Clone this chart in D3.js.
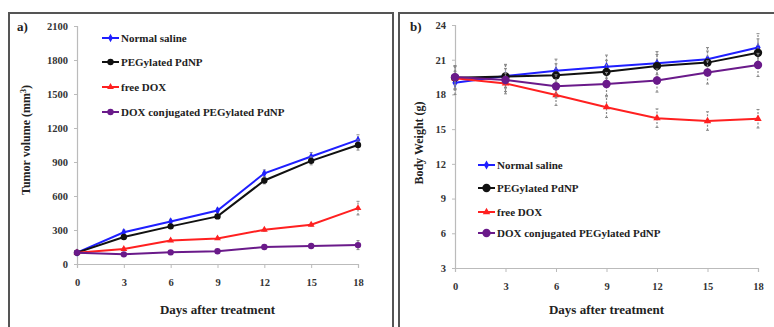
<!DOCTYPE html>
<html>
<head>
<meta charset="utf-8">
<script src="https://cdn.jsdelivr.net/npm/d3@7"></script>
<style>
  body { margin: 0; background: #fff; }
</style>
</head>
<body>
<div id="chart"></div>
<script>
// Data
const days = [0, 3, 6, 9, 12, 15, 18];
const seriesNames = ['Normal saline', 'PEGylated PdNP', 'free DOX', 'DOX conjugated PEGylated PdNP'];
const seriesColors = ['#1f1fff', '#111111', '#ff2020', '#6a1a8a'];
const seriesSymbols = ['diamond', 'circle', 'triangle', 'circle'];

// a) tumor volume (mm3)
const volNormal = [100, 280, 375, 472, 800, 948, 1095];
const volPeg = [100, 238, 332, 420, 737, 910, 1050];
const volDox = [100, 132, 208, 226, 302, 347, 493];
const volConj = [100, 85, 103, 112, 150, 159, 167];
const volErr = [
  [0, 20, 20, 20, 30, 35, 45],
  [0, 15, 15, 15, 30, 35, 45],
  [0, 10, 10, 10, 12, 12, 60],
  [0, 8, 8, 8, 10, 10, 40]
];
const volTicks = [0, 300, 600, 900, 1200, 1500, 1800, 2100];

// b) body weight (g)
const wtNormal = [19.0, 19.6, 20.05, 20.4, 20.7, 21.05, 22.05];
const wtPeg = [19.45, 19.55, 19.65, 19.95, 20.45, 20.75, 21.6];
const wtDox = [19.4, 18.95, 17.95, 16.9, 15.95, 15.7, 15.9];
const wtConj = [19.5, 19.25, 18.7, 18.9, 19.2, 19.9, 20.55];
const wtErr = [
  [1.0, 1.0, 1.0, 1.0, 1.0, 1.0, 1.2],
  [1.0, 1.0, 1.0, 1.0, 1.0, 1.0, 1.2],
  [1.0, 0.9, 0.9, 0.9, 0.8, 0.8, 0.8],
  [1.0, 1.0, 1.0, 1.0, 1.0, 1.0, 1.0]
];
const wtTicks = [3, 6, 9, 12, 15, 18, 21, 24];

const FONT = '"Liberation Serif", "Times New Roman", "DejaVu Serif", serif';

const svg = d3.select('#chart')
  .append('svg')
  .attr('width', 774)
  .attr('height', 327);

// Panel frames
svg.append('path')
  .attr('d', 'M9,340 V13 H393 V340')
  .attr('fill', 'none').attr('stroke', '#555').attr('stroke-width', 2);
svg.append('path')
  .attr('d', 'M399,340 V13 H790')
  .attr('fill', 'none').attr('stroke', '#555').attr('stroke-width', 2);

function symbolFor(sym) {
  return sym === 'circle' ? d3.symbolCircle : sym === 'diamond' ? d3.symbolDiamond : d3.symbolTriangle;
}

function drawPanel(cfg) {
  const x = d3.scaleLinear().domain([0, 18]).range([cfg.x0, cfg.x1]);
  const y = d3.scaleLinear().domain(cfg.yDomain).range([cfg.y0, cfg.y1]);
  const g = svg.append('g');

  // axes
  const yAxis = d3.axisLeft(y).tickValues(cfg.yTicks).tickFormat(d3.format('d')).tickSize(3).tickPadding(6);
  const xAxis = d3.axisBottom(x).tickValues(days).tickFormat(d3.format('d')).tickSize(4).tickPadding(11);

  const ya = g.append('g').attr('transform', `translate(${cfg.x0},0)`).call(yAxis);
  const xa = g.append('g').attr('transform', `translate(0,${cfg.y0})`).call(xAxis);
  [ya, xa].forEach(a => {
    a.attr('font-family', FONT).attr('font-weight', 'bold').attr('font-size', 10.5);
    a.select('.domain').attr('stroke', '#bbb').attr('stroke-width', 1.2);
    a.selectAll('.tick line').attr('stroke', '#bbb');
    a.selectAll('text').attr('fill', '#333');
  });

  // series
  cfg.series.forEach((vals, i) => {
    const col = seriesColors[i];
    const err = cfg.err[i];
    // error bars
    const eb = g.append('g');
    days.forEach((d, j) => {
      if (!err[j]) return;
      const xx = x(d);
      eb.append('line')
        .attr('x1', xx).attr('x2', xx)
        .attr('y1', y(vals[j] - err[j])).attr('y2', y(vals[j] + err[j]))
        .attr('stroke', '#888').attr('stroke-width', 1.2).attr('stroke-dasharray', '2,1.5');
      [vals[j] - err[j], vals[j] + err[j]].forEach(v => {
        eb.append('line')
          .attr('x1', xx - 1.5).attr('x2', xx + 1.5)
          .attr('y1', y(v)).attr('y2', y(v))
          .attr('stroke', '#888').attr('stroke-width', 1);
      });
    });

    g.append('path')
      .datum(vals)
      .attr('fill', 'none')
      .attr('stroke', col)
      .attr('stroke-width', 2)
      .attr('d', d3.line().x((v, j) => x(days[j])).y(v => y(v)));

    const sym = seriesSymbols[i];
    const size = sym === 'circle' ? cfg.circleSize : cfg.otherSize;
    g.selectAll(null)
      .data(vals)
      .enter()
      .append('path')
      .attr('transform', (v, j) => `translate(${x(days[j])},${y(v)})`)
      .attr('d', d3.symbol().type(symbolFor(sym)).size(size))
      .attr('fill', col);
  });

  // legend
  const lg = g.append('g');
  seriesNames.forEach((name, i) => {
    const ly = cfg.legY[i];
    lg.append('line')
      .attr('x1', cfg.legX).attr('x2', cfg.legX + 17)
      .attr('y1', ly).attr('y2', ly)
      .attr('stroke', seriesColors[i]).attr('stroke-width', 2);
    const sym = seriesSymbols[i];
    lg.append('path')
      .attr('transform', `translate(${cfg.legX + 8.5},${ly})`)
      .attr('d', d3.symbol().type(symbolFor(sym)).size(sym === 'circle' ? cfg.circleSize : cfg.otherSize))
      .attr('fill', seriesColors[i]);
    lg.append('text')
      .attr('x', cfg.legX + 19).attr('y', ly + 3.5)
      .attr('font-family', FONT).attr('font-weight', 'bold').attr('font-size', 11)
      .attr('fill', '#222')
      .text(name);
  });

  // titles
  g.append('text')
    .attr('x', (cfg.x0 + cfg.x1) / 2).attr('y', 314)
    .attr('text-anchor', 'middle')
    .attr('font-family', FONT).attr('font-weight', 'bold').attr('font-size', 13)
    .attr('fill', '#222')
    .text('Days after treatment');

  const yt = g.append('text')
    .attr('transform', `translate(${cfg.yTitleX},${cfg.yTitleY}) rotate(-90)`)
    .attr('text-anchor', 'middle')
    .attr('font-family', FONT).attr('font-weight', 'bold').attr('font-size', 12)
    .attr('fill', '#222');
  cfg.yTitle(yt);

  g.append('text')
    .attr('x', cfg.tagX).attr('y', 31)
    .attr('font-family', FONT).attr('font-weight', 'bold').attr('font-size', 13)
    .attr('fill', '#222')
    .text(cfg.tag);
}

drawPanel({
  x0: 77, x1: 358, y0: 264, y1: 26,
  yDomain: [0, 2100], yTicks: volTicks,
  series: [volNormal, volPeg, volDox, volConj], err: volErr,
  circleSize: 32, otherSize: 20,
  legX: 102, legY: [38, 62, 87, 112],
  yTitleX: 30, yTitleY: 140,
  yTitle: t => {
    t.append('tspan').text('Tumor volume (mm');
    t.append('tspan').attr('dy', -4).attr('font-size', 8).text('3');
    t.append('tspan').attr('dy', 4).text(')');
  },
  tag: 'a)', tagX: 17
});

drawPanel({
  x0: 455, x1: 758, y0: 268, y1: 25,
  yDomain: [3, 24], yTicks: wtTicks,
  series: [wtNormal, wtPeg, wtDox, wtConj], err: wtErr,
  circleSize: 55, otherSize: 24,
  legX: 478, legY: [165, 188, 212, 233],
  yTitleX: 423, yTitleY: 143,
  yTitle: t => t.text('Body Weight (g)'),
  tag: 'b)', tagX: 410
});
</script>
</body>
</html>
